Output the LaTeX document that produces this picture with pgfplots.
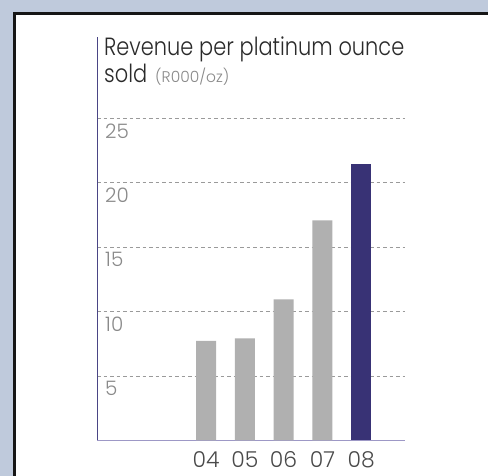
\documentclass[border=0pt]{standalone}
\usepackage{fontspec}
\setmainfont{Poppins}[UprightFont={* Light}]
\newfontfamily\titlefont{Poppins}[UprightFont={* Light}, FakeStretch=0.84]
\usepackage{pgfplots}
\pgfplotsset{compat=1.18}
\definecolor{bgc}{HTML}{BFCADC}
\definecolor{framec}{HTML}{161616}
\definecolor{bargray}{HTML}{B0B0B0}
\definecolor{bardark}{HTML}{383275}
\definecolor{yaxc}{HTML}{4A4585}
\definecolor{xaxc}{HTML}{9D98C6}
\definecolor{tickgray}{HTML}{8A8A8A}
\definecolor{gridc}{HTML}{9A9A9A}
\definecolor{titlec}{HTML}{2A2A2A}
\begin{document}
\begin{tikzpicture}[x=1bp,y=1bp]
\useasboundingbox (0,0) rectangle (488,476);
\fill[bgc] (0,0) rectangle (488,476);
\fill[white] (13,0) rectangle (488,464);
\fill[framec] (13,0) rectangle (16,464);
\fill[framec] (13,461) rectangle (488,464);
\begin{axis}[
  at={(97bp,35.5bp)}, anchor=south west,
  scale only axis, width=308bp, height=403.5bp,
  xmin=-2.81, xmax=5.13, ymin=0, ymax=31.33,
  axis x line*=bottom, axis y line*=left,
  x axis line style={draw=xaxc, line width=1.3bp},
  y axis line style={draw=yaxc, line width=1bp},
  major tick length=0pt,
  /pgf/number format/assume math mode=true,
  ytick={5,10,15,20,25},
  ymajorgrids,
  grid style={draw=gridc, line width=1.1bp, dash pattern=on 3.5bp off 3bp},
  xtick={0,1,2,3,4},
  xticklabels={04,05,06,07,08},
  yticklabel style={anchor=north west, inner sep=0pt, xshift=8bp, yshift=-5bp,
    font=\fontsize{20}{20}\selectfont, text=tickgray},
  xticklabel style={anchor=north, inner sep=0pt, yshift=-11bp,
    font=\fontsize{22}{22}\selectfont, text=titlec!85},
]
\addplot[ybar, bar width=20bp, bar shift=0pt, fill=bargray, draw=none]
  coordinates {(0,7.73) (1,7.93) (2,10.96) (3,17.1)};
\addplot[ybar, bar width=20bp, bar shift=0pt, fill=bardark, draw=none]
  coordinates {(4,21.5)};
\end{axis}
\node[anchor=base west, inner sep=0pt, text=titlec, font=\titlefont\fontsize{25}{25}\selectfont] at (104,420) {Revenue per platinum ounce};
\node[anchor=base west, inner sep=0pt, text=titlec, font=\titlefont\fontsize{25}{25}\selectfont] at (104,393) {sold\hspace{8bp}{\rmfamily\color{tickgray}\fontsize{15.5}{15.5}\selectfont (R000/oz)}};
\end{tikzpicture}
\end{document}
